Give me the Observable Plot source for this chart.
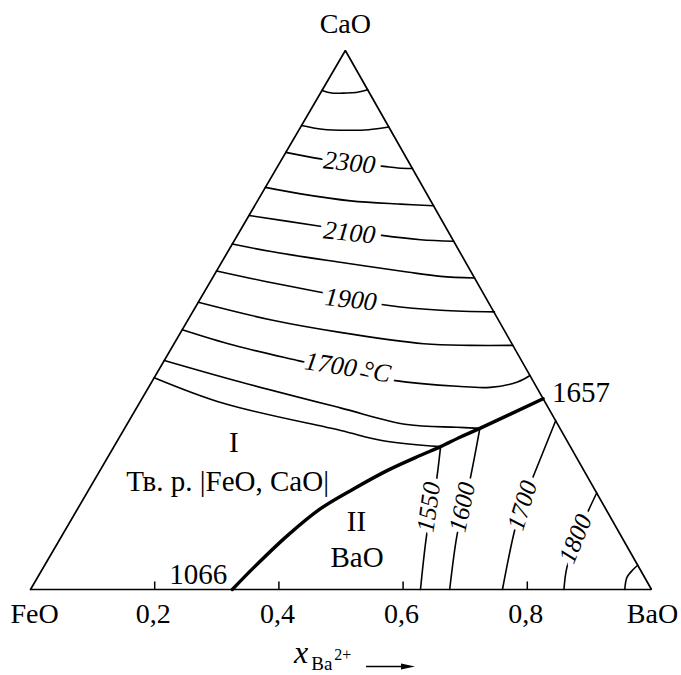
<!DOCTYPE html>
<html><head><meta charset="utf-8">
<script src="https://cdn.jsdelivr.net/npm/d3@7"></script>
<script src="https://cdn.jsdelivr.net/npm/@observablehq/plot@0.6"></script>
<style>html,body{margin:0;padding:0;background:#fff}</style>
</head><body><div id="chart"></div>
<script>
// Compositions as [x_BaO, x_CaO] (x_FeO = 1 - x_BaO - x_CaO)
const vertices = [
  {name: "FeO", b: 0, c: 0},
  {name: "BaO", b: 1, c: 0},
  {name: "CaO", b: 0, c: 1}
];
const tickValues = [0.2, 0.4, 0.6, 0.8];
const tickLabels = ["0,2", "0,4", "0,6", "0,8"];

// Isotherms in the CaO-rich solid-solution field (°C)
const t2500 = [[0,0.926],[0.018,0.921],[0.037,0.921],[0.057,0.922],[0.073,0.927]];
const t2400 = [[0,0.861],[0.037,0.854],[0.078,0.852],[0.112,0.853],[0.142,0.858]];
const t2300 = [[0,0.811],[0.062,0.799],[0.114,0.792],[0.171,0.785],[0.195,0.782],[0.219,0.781]];
const t2200 = [[0,0.746],[0.063,0.734],[0.150,0.721],[0.233,0.715],[0.288,0.712]];
const t2100 = [[0,0.694],[0.119,0.675],[0.178,0.666],[0.233,0.657],[0.299,0.649],[0.354,0.646]];
const t2000 = [[0,0.641],[0.075,0.626],[0.191,0.607],[0.308,0.589],[0.366,0.581],[0.422,0.578]];
const t1900 = [[0,0.591],[0.091,0.571],[0.185,0.552],[0.247,0.539],[0.310,0.527],[0.398,0.518],[0.486,0.515]];
const t1800 = [[0,0.533],[0.139,0.499],[0.257,0.477],[0.402,0.456],[0.479,0.453],[0.547,0.453]];
const t1700 = [[0,0.482],[0.098,0.453],[0.214,0.425],[0.302,0.405],[0.388,0.388],[0.496,0.377],[0.550,0.375],[0.589,0.385],[0.603,0.397]];
const t1600upper = [[0,0.425],[0.143,0.385],[0.328,0.337],[0.451,0.306],[0.534,0.301],[0.572,0.299]];
const t1550upper = [[0,0.393],[0.137,0.345],[0.350,0.295],[0.428,0.276],[0.526,0.265]];

// Isotherms in the BaO field
const t1550lower = [[0.526,0.265],[0.549,0.208],[0.568,0.156],[0.586,0.103],[0.628,0]];
const t1600lower = [[0.572,0.299],[0.604,0.205],[0.620,0.152],[0.636,0.100],[0.675,0]];
const t1700lower = [[0.687,0.313],[0.704,0.205],[0.712,0.156],[0.726,0.103],[0.760,0]];
const t1800lower = [[0.821,0.179],[0.825,0.140],[0.833,0.091],[0.843,0.041],[0.859,0]];
const cornerArc = [[0.957,0],[0.949,0.023],[0.952,0.038],[0.955,0.045]];

// Field boundary I / II (1657 on CaO–BaO side, 1066 on FeO–BaO side)
const boundary = [[0.646,0.354],[0.572,0.299],[0.549,0.283],[0.526,0.265],[0.502,0.249],[0.463,0.221],[0.426,0.187],[0.391,0.150],[0.363,0.100],[0.339,0.041],[0.325,0]];
const boundaryEndLabels = ["1657", "1066"];

const upperLabelText = ["2300", "2100", "1900", "1700 °C"];
const upperLabelPos = [[0.112,0.792],[0.178,0.662],[0.243,0.538],[0.302,0.412]];
const lowerLabelText = ["1550", "1600", "1700", "1800"];
const lowerLabelPos = [[0.564,0.153],[0.618,0.153],[0.713,0.156],[0.830,0.094]];
const regionText = ["I", "Тв. р. |FeO, CaO|", "II", "BaO"];
const regionPos = [[0.189,0.273],[0.216,0.200],[0.461,0.126],[0.496,0.059]];

// ---- drawing ----
const APEX = 0.507; // horizontal position of the CaO apex in the drawn triangle
const X = d => d[0] + APEX * d[1];
const Y = d => d[1];
const triangle = [...vertices, vertices[0]].map(v => [v.b, v.c]);

const thinCurves = [t2500, t2400, t2300, t2200, t2100, t2000, t1900, t1800, t1700,
  t1600upper, t1550upper, t1550lower, t1600lower, t1700lower, t1800lower, cornerArc];

const upperAngles = [6, 6, 6, 9];
const lowerAngles = [-82, -78, -73, -68];
const upperLabels = upperLabelText.map((t, i) => ({t, p: upperLabelPos[i], a: upperAngles[i]}));
const lowerLabels = lowerLabelText.map((t, i) => ({t, p: lowerLabelPos[i], a: lowerAngles[i]}));
const regions = regionText.map((t, i) => ({t, p: regionPos[i]}));

const font = "'Liberation Serif', 'Times New Roman', serif";
const T = {fontFamily: font, fill: "black"};

const chart = Plot.plot({
  width: 681,
  height: 675,
  marginLeft: 30,
  marginRight: 30,
  marginTop: 50,
  marginBottom: 86,
  x: {domain: [0, 1], axis: null},
  y: {domain: [0, 1], axis: null},
  style: {fontFamily: font, background: "white", color: "black"},
  marks: [
    ...thinCurves.map(arr => Plot.line(arr, {x: X, y: Y, curve: "catmull-rom", stroke: "black", strokeWidth: 1.6})),
    Plot.line(boundary, {x: X, y: Y, curve: "catmull-rom", stroke: "black", strokeWidth: 3.4}),
    Plot.line(triangle, {x: X, y: Y, stroke: "black", strokeWidth: 1.7, strokeLinejoin: "miter"}),
    Plot.ruleX(tickValues, {x: d => d, y1: 0, y2: 0.014, stroke: "black", strokeWidth: 1.5}),
    Plot.text(upperLabels, {...T, x: d => X(d.p), y: d => Y(d.p), text: "t", rotate: "a",
      fontSize: 26, fontStyle: "italic", stroke: "white", strokeWidth: 12}),
    Plot.text(lowerLabels, {...T, x: d => X(d.p), y: d => Y(d.p), text: "t", rotate: "a",
      fontSize: 25, fontStyle: "italic", stroke: "white", strokeWidth: 11}),
    Plot.text(regions, {...T, x: d => X(d.p), y: d => Y(d.p), text: "t", fontSize: 29}),
    Plot.text([boundary[0]], {...T, x: X, y: Y, text: () => boundaryEndLabels[0], textAnchor: "start", dx: 9, dy: -6, fontSize: 29}),
    Plot.text([boundary[boundary.length - 1]], {...T, x: X, y: Y, text: () => boundaryEndLabels[1], textAnchor: "end", dx: -5, dy: -15, fontSize: 29}),
    Plot.text(tickValues, {...T, x: d => d, y: () => 0, text: (d, i) => tickLabels[i], dy: 25, dx: -1.5, fontSize: 28}),
    Plot.text([vertices[0]], {...T, x: d => X([d.b, d.c]), y: d => d.c, text: "name", dy: 25, dx: 4, fontSize: 28}),
    Plot.text([vertices[1]], {...T, x: d => X([d.b, d.c]), y: d => d.c, text: "name", dy: 25, dx: 1, fontSize: 28}),
    Plot.text([vertices[2]], {...T, x: d => X([d.b, d.c]), y: d => d.c, text: "name", dy: -26, dx: 0, fontSize: 28})
  ]
});

// Axis title: x_{Ba^{2+}} with arrow
const xs = chart.scale("x");
const x0 = xs.apply(0.5) - 46.5;
const yBase = 663;
const g = d3.select(chart).append("g")
  .attr("font-family", font).attr("fill", "black").attr("text-anchor", "start");
const title = g.append("text").attr("x", x0).attr("y", yBase).attr("text-anchor", "start");
title.append("tspan").attr("font-style", "italic").attr("font-size", 32).text("x");
title.append("tspan").attr("font-size", 19).attr("dx", 3).attr("dy", 7).text("Ba");
title.append("tspan").attr("font-size", 16).attr("dx", 2).attr("dy", -10).text("2+");
g.append("line").attr("x1", x0 + 72).attr("x2", x0 + 110).attr("y1", yBase + 3.5).attr("y2", yBase + 3.5)
  .attr("stroke", "black").attr("stroke-width", 1.6);
g.append("path").attr("d", `M${x0 + 121},${yBase + 3.5} L${x0 + 107},${yBase + 0.5} L${x0 + 107},${yBase + 6.5} Z`);

document.getElementById("chart").appendChild(chart);
</script>
</body></html>
